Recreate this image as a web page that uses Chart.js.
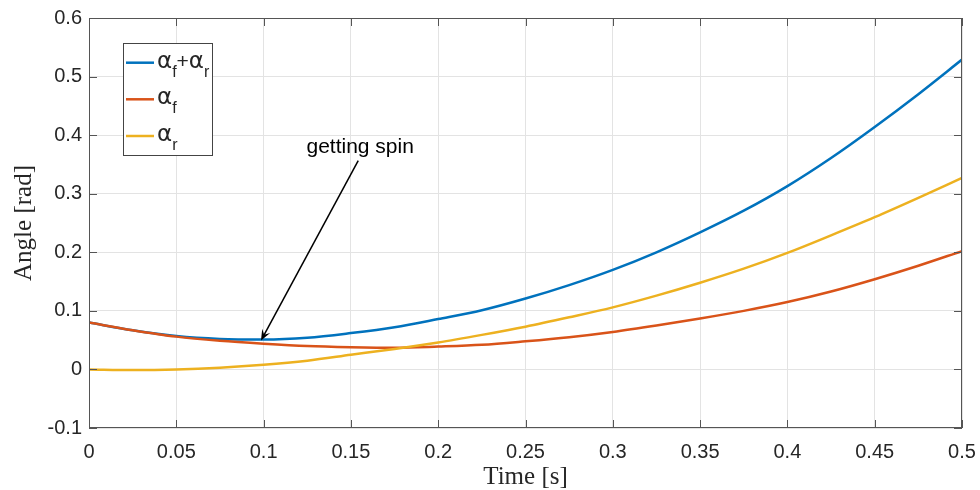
<!DOCTYPE html>
<html>
<head>
<meta charset="utf-8">
<script src="https://cdn.jsdelivr.net/npm/chart.js@4.4.1/dist/chart.umd.min.js"></script>
<style>
  html, body { margin: 0; padding: 0; background: #fff; }
  #wrap { width: 980px; height: 490px; }
</style>
</head>
<body>
<div id="wrap"><canvas id="myChart" width="980" height="490"></canvas></div>
<script>
// sample times [s]
var time = [0, 0.025, 0.05, 0.075, 0.1, 0.125, 0.15, 0.175, 0.2, 0.225, 0.25,
            0.275, 0.3, 0.325, 0.35, 0.375, 0.4, 0.425, 0.45, 0.475, 0.5];
// slip angles [rad]
var sumAngle   = [0.080, 0.067, 0.057, 0.052, 0.051, 0.054, 0.062, 0.072, 0.086, 0.101, 0.121,
                  0.144, 0.170, 0.200, 0.234, 0.271, 0.313, 0.361, 0.414, 0.470, 0.529];
var frontAngle = [0.080, 0.067, 0.056, 0.049, 0.044, 0.040, 0.038, 0.037, 0.039, 0.042, 0.048,
                  0.055, 0.064, 0.075, 0.087, 0.100, 0.115, 0.133, 0.154, 0.177, 0.202];
var rearAngle  = [0.000, -0.001, 0.000, 0.003, 0.008, 0.015, 0.025, 0.035, 0.046, 0.059, 0.073,
                  0.089, 0.106, 0.126, 0.148, 0.172, 0.199, 0.229, 0.260, 0.293, 0.327];

var xTicks = [0, 0.05, 0.1, 0.15, 0.2, 0.25, 0.3, 0.35, 0.4, 0.45, 0.5];
var yTicks = [-0.1, 0, 0.1, 0.2, 0.3, 0.4, 0.5, 0.6];

var seriesNames = [['α', 'f', '+', 'α', 'r'], ['α', 'f'], ['α', 'r']];
var seriesColors = ['#0072BD', '#D95319', '#EDB120'];

var AXIS = '#262626';

function points(ys) {
    return time.map(function(t, i) { return {x: t, y: ys[i]}; });
}

function fmt(v) {
    return String(+v.toFixed(2));
}

// box around the axes with inward tick marks on all four sides
var frame = {
    id: 'frame',
    afterDraw: function(chart) {
        var ctx = chart.ctx, a = chart.chartArea;
        var xs = chart.scales.x, ys = chart.scales.y;
        var len = 8;
        ctx.save();
        ctx.strokeStyle = '#555';
        ctx.lineWidth = 1;
        ctx.beginPath();
        xTicks.forEach(function(v) {
            var px = Math.round(xs.getPixelForValue(v)) + 0.5;
            ctx.moveTo(px, a.bottom); ctx.lineTo(px, a.bottom - len);
            ctx.moveTo(px, a.top); ctx.lineTo(px, a.top + len);
        });
        yTicks.forEach(function(v) {
            var py = Math.round(ys.getPixelForValue(v)) + 0.5;
            ctx.moveTo(a.left, py); ctx.lineTo(a.left + len, py);
            ctx.moveTo(a.right, py); ctx.lineTo(a.right - len, py);
        });
        ctx.stroke();
        ctx.strokeRect(Math.round(a.left) + 0.5, Math.round(a.top) + 0.5,
                       Math.round(a.right - a.left) - 1, Math.round(a.bottom - a.top) - 1);
        ctx.restore();
    }
};

// "getting spin" arrow, placed in data coordinates
var note = {
    id: 'note',
    afterDraw: function(chart) {
        var ctx = chart.ctx;
        var xs = chart.scales.x, ys = chart.scales.y;
        var x1 = xs.getPixelForValue(0.1542), y1 = ys.getPixelForValue(0.3565);
        var x2 = xs.getPixelForValue(0.0985), y2 = ys.getPixelForValue(0.0493);
        var ang = Math.atan2(y2 - y1, x2 - x1);
        var hl = 11, hw = 4.5;
        ctx.save();
        ctx.strokeStyle = '#000';
        ctx.fillStyle = '#000';
        ctx.lineWidth = 1.5;
        ctx.beginPath();
        ctx.moveTo(x1, y1);
        ctx.lineTo(x2 - Math.cos(ang) * 6, y2 - Math.sin(ang) * 6);
        ctx.stroke();
        var bx = x2 - Math.cos(ang) * hl, by = y2 - Math.sin(ang) * hl;
        var nx = -Math.sin(ang), ny = Math.cos(ang);
        ctx.beginPath();
        ctx.moveTo(x2, y2);
        ctx.lineTo(bx + nx * hw, by + ny * hw);
        ctx.lineTo(x2 - Math.cos(ang) * hl * 0.6, y2 - Math.sin(ang) * hl * 0.6);
        ctx.lineTo(bx - nx * hw, by - ny * hw);
        ctx.closePath();
        ctx.fill();
        ctx.font = '21px "Liberation Sans", Arial, sans-serif';
        ctx.textAlign = 'center';
        ctx.textBaseline = 'alphabetic';
        ctx.fillText('getting spin', xs.getPixelForValue(0.1553), ys.getPixelForValue(0.3696));
        ctx.restore();
    }
};

// legend with subscripted labels
var subLegend = {
    id: 'subLegend',
    afterDraw: function(chart) {
        var ctx = chart.ctx;
        var bx = 123, by = 43, bw = 89, bh = 112;
        var rows = [62.7, 99.3, 136];
        ctx.save();
        ctx.fillStyle = '#fff';
        ctx.fillRect(bx, by, bw, bh);
        ctx.strokeStyle = '#444';
        ctx.lineWidth = 1;
        ctx.strokeRect(bx + 0.5, by + 0.5, bw, bh);
        rows.forEach(function(y, i) {
            ctx.strokeStyle = seriesColors[i];
            ctx.lineWidth = 2.5;
            ctx.beginPath();
            ctx.moveTo(126, y);
            ctx.lineTo(154, y);
            ctx.stroke();
            var x = 157;
            ctx.fillStyle = AXIS;
            ctx.textBaseline = 'alphabetic';
            ctx.textAlign = 'left';
            seriesNames[i].forEach(function(part) {
                var sub = (part === 'f' || part === 'r');
                ctx.font = sub ? '16px "Liberation Sans", Arial, sans-serif'
                               : '23px "DejaVu Sans", "Liberation Sans", sans-serif';
                var base = sub ? y + 14 : y + 5;
                if (part === '+') {
                    ctx.font = '21px "Liberation Sans", Arial, sans-serif';
                }
                ctx.fillText(part, x, base);
                x += ctx.measureText(part).width;
            });
        });
        ctx.restore();
    }
};

var ctx = document.getElementById('myChart').getContext('2d');
var myChart = new Chart(ctx, {
    type: 'line',
    data: {
        datasets: [
            {label: 'α_f+α_r', data: points(sumAngle), borderColor: seriesColors[0], order: 3},
            {label: 'α_f', data: points(frontAngle), borderColor: seriesColors[1], order: 2},
            {label: 'α_r', data: points(rearAngle), borderColor: seriesColors[2], order: 1}
        ]
    },
    options: {
        responsive: false,
        animation: false,
        layout: { padding: {top: 18, right: 18, left: 0, bottom: 0} },
        elements: {
            line: { borderWidth: 2.5, cubicInterpolationMode: 'monotone', fill: false },
            point: { radius: 0 }
        },
        plugins: {
            legend: { display: false },
            tooltip: { enabled: false }
        },
        scales: {
            x: {
                type: 'linear',
                min: 0,
                max: 0.5,
                afterBuildTicks: function(s) { s.ticks = xTicks.map(function(v) { return {value: v}; }); },
                afterFit: function(s) { s.height = 62; s.paddingRight = 0; s.paddingLeft = 0; },
                grid: { color: '#e3e3e3', drawTicks: false },
                border: { display: false },
                ticks: {
                    color: AXIS,
                    padding: 12,
                    maxRotation: 0,
                    font: { family: '"Liberation Sans", Arial, sans-serif', size: 20 },
                    callback: function(v) { return fmt(v); }
                },
                title: {
                    display: true,
                    text: 'Time [s]',
                    color: AXIS,
                    padding: {top: 0, bottom: 0},
                    font: { family: '"Liberation Serif", "Times New Roman", serif', size: 25, lineHeight: 1.0 }
                }
            },
            y: {
                min: -0.1,
                max: 0.6,
                afterBuildTicks: function(s) { s.ticks = yTicks.map(function(v) { return {value: v}; }); },
                afterFit: function(s) { s.width = 89; s.paddingTop = 0; s.paddingBottom = 0; },
                grid: { color: '#e3e3e3', drawTicks: false },
                border: { display: false },
                ticks: {
                    color: AXIS,
                    padding: 7,
                    font: { family: '"Liberation Sans", Arial, sans-serif', size: 20 },
                    callback: function(v) { return fmt(v); }
                },
                title: {
                    display: true,
                    text: 'Angle [rad]',
                    color: AXIS,
                    padding: {top: 9, bottom: 0},
                    font: { family: '"Liberation Serif", "Times New Roman", serif', size: 25 }
                }
            }
        }
    },
    plugins: [frame, note, subLegend]
});
</script>
</body>
</html>
